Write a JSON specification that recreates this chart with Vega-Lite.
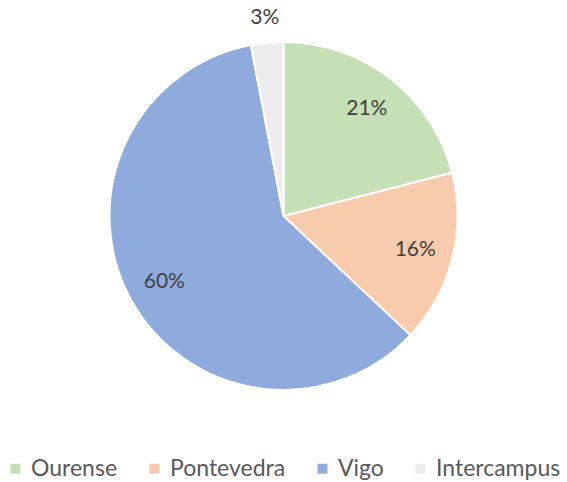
{
  "$schema": "https://vega.github.io/schema/vega-lite/v6.json",
  "width": 567,
  "height": 432,
  "padding": {"top": 0, "left": 0, "right": 0, "bottom": 50},
  "autosize": "none",
  "background": "white",
  "data": {"values": [
    {"campus": "Ourense", "pct": 21, "idx": 1, "label": "21%"},
    {"campus": "Pontevedra", "pct": 16, "idx": 2, "label": "16%"},
    {"campus": "Vigo", "pct": 60, "idx": 3, "label": "60%"},
    {"campus": "Intercampus", "pct": 3, "idx": 4, "label": "3%"}
  ]},
  "encoding": {
    "theta": {"field": "pct", "type": "quantitative", "stack": true},
    "order": {"field": "idx", "type": "quantitative"}
  },
  "layer": [
    {
      "mark": {"type": "arc", "outerRadius": 174, "stroke": "white", "strokeWidth": 2},
      "encoding": {
        "color": {
          "field": "campus", "type": "nominal",
          "scale": {"domain": ["Ourense", "Pontevedra", "Vigo", "Intercampus"], "range": ["#c5e0b4", "#f8cbad", "#8faadc", "#ededed"]},
          "legend": {
            "title": null, "orient": "none", "direction": "horizontal", "columns": 4,
            "legendX": 4, "legendY": 457, "padding": 0,
            "symbolType": "square", "symbolSize": 100, "symbolStrokeWidth": 0,
            "labelFont": "Lato", "labelFontSize": 23, "labelColor": "#595959",
            "labelOffset": 4, "columnPadding": 25, "labelLimit": 300
          }
        }
      }
    },
    {
      "mark": {"type": "text", "radius": 136, "font": "Lato", "fontSize": 21, "color": "#404040"},
      "encoding": {"text": {"condition": {"test": "datum.campus == 'Intercampus'", "value": ""}, "field": "label"}}
    },
    {
      "mark": {"type": "text", "radius": 199, "font": "Lato", "fontSize": 21, "color": "#404040"},
      "encoding": {"text": {"condition": {"test": "datum.campus != 'Intercampus'", "value": ""}, "field": "label"}}
    }
  ]
}
